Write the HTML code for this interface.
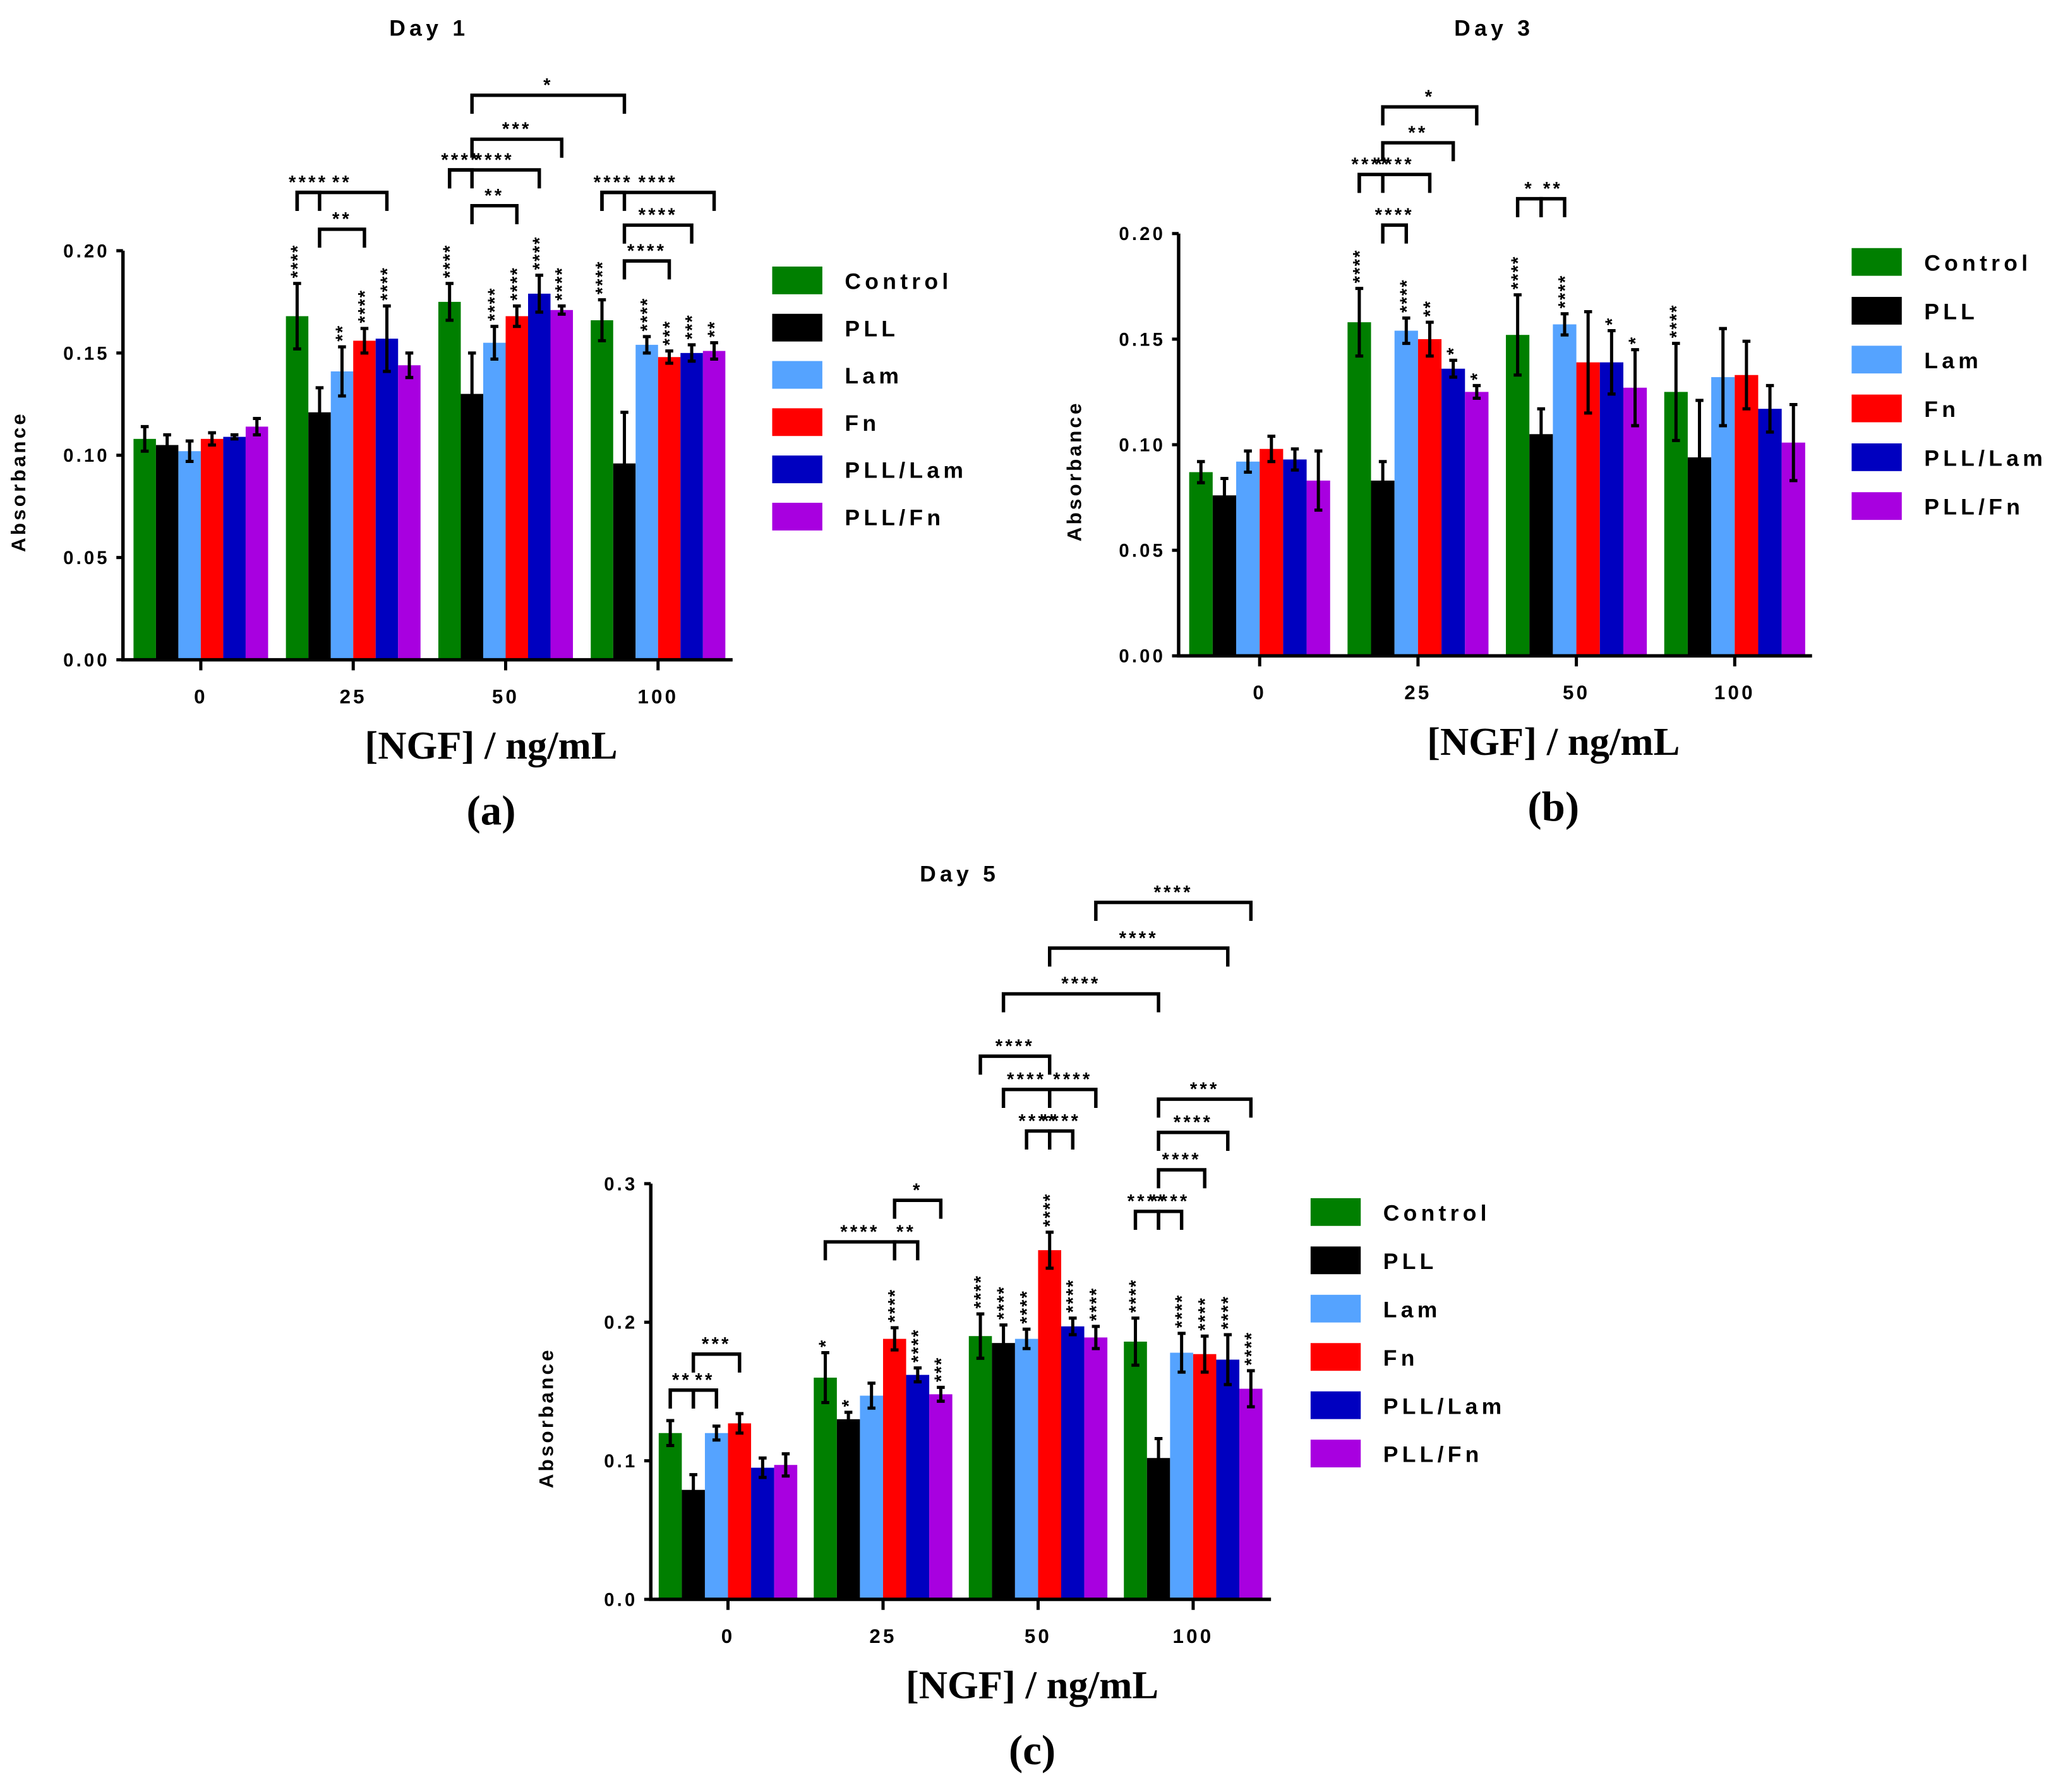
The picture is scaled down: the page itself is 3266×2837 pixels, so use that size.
<!DOCTYPE html>
<html><head><meta charset="utf-8"><style>
html,body{margin:0;padding:0;background:#fff}
svg{display:block}
text{font-family:"Liberation Sans",sans-serif;font-weight:bold}
.ser{font-family:"Liberation Serif",serif}
</style></head><body>
<svg id="fig" width="3266" height="2837" viewBox="0 0 1563 1358" xmlns="http://www.w3.org/2000/svg"></svg>
<script>
const seriesNames=["Control","PLL","Lam","Fn","PLL/Lam","PLL/Fn"];
const colors=["#007f00","#000000","#55a3ff","#ff0000","#0000c0","#a800e0"];
const categories=["0","25","50","100"];
const day1Values=[[0.108,0.168,0.175,0.166],[0.105,0.121,0.130,0.096],[0.102,0.141,0.155,0.154],[0.108,0.156,0.168,0.148],[0.109,0.157,0.179,0.150],[0.114,0.144,0.171,0.151]];
const day1Errors=[[0.006,0.016,0.009,0.010],[0.005,0.012,0.020,0.025],[0.005,0.012,0.008,0.004],[0.003,0.006,0.005,0.003],[0.001,0.016,0.009,0.004],[0.004,0.006,0.002,0.004]];
const day3Values=[[0.087,0.158,0.152,0.125],[0.076,0.083,0.105,0.094],[0.092,0.154,0.157,0.132],[0.098,0.150,0.139,0.133],[0.093,0.136,0.139,0.117],[0.083,0.125,0.127,0.101]];
const day3Errors=[[0.005,0.016,0.019,0.023],[0.008,0.009,0.012,0.027],[0.005,0.006,0.005,0.023],[0.006,0.008,0.024,0.016],[0.005,0.004,0.015,0.011],[0.014,0.003,0.018,0.018]];
const day5Values=[[0.120,0.160,0.190,0.186],[0.079,0.130,0.185,0.102],[0.120,0.147,0.188,0.178],[0.127,0.188,0.252,0.177],[0.095,0.162,0.197,0.173],[0.097,0.148,0.189,0.152]];
const day5Errors=[[0.009,0.018,0.016,0.017],[0.011,0.005,0.013,0.014],[0.005,0.009,0.007,0.014],[0.007,0.008,0.013,0.013],[0.007,0.005,0.006,0.018],[0.008,0.005,0.008,0.013]];
const day1Ticks=["0.00","0.05","0.10","0.15","0.20"];
const day3Ticks=["0.00","0.05","0.10","0.15","0.20"];
const day5Ticks=["0.0","0.1","0.2","0.3"];
const day1Brackets=[[1,0,1,4,0.2285,"**"],[1,0,1,1,0.2285,"****"],[1,1,1,3,0.2105,"**"],[2,0,2,4,0.2395,"****"],[2,0,2,1,0.2395,"****"],[2,1,2,3,0.2220,"**"],[2,1,2,5,0.2545,"***"],[2,1,3,1,0.2760,"*"],[3,0,3,5,0.2285,"****"],[3,0,3,1,0.2285,"****"],[3,1,3,4,0.2125,"****"],[3,1,3,3,0.1950,"****"]];
const day3Brackets=[[1,0,1,3,0.2280,"****"],[1,0,1,1,0.2280,"****"],[1,1,1,2,0.2040,"****"],[1,1,1,4,0.2430,"**"],[1,1,1,5,0.2600,"*"],[2,0,2,1,0.2165,"*"],[2,1,2,2,0.2165,"**"]];
const day5Brackets=[[0,0,0,1,0.151,"**"],[0,1,0,2,0.151,"**"],[0,1,0,3,0.177,"***"],[1,0,1,3,0.258,"****"],[1,3,1,4,0.258,"**"],[1,3,1,5,0.288,"*"],[2,0,2,3,0.392,"****"],[2,1,2,3,0.368,"****"],[2,3,2,5,0.368,"****"],[2,2,2,3,0.338,"****"],[2,3,2,4,0.338,"****"],[2,1,3,1,0.437,"****"],[2,3,3,4,0.470,"****"],[2,5,3,5,0.503,"****"],[3,0,3,1,0.280,"****"],[3,1,3,2,0.280,"****"],[3,1,3,3,0.310,"****"],[3,1,3,4,0.337,"****"],[3,1,3,5,0.361,"***"]];
const day1Stars=[[1,0,"****"],[1,2,"**"],[1,3,"****"],[1,4,"****"],[2,0,"****"],[2,2,"****"],[2,3,"****"],[2,4,"****"],[2,5,"****"],[3,0,"****"],[3,2,"****"],[3,3,"***"],[3,4,"***"],[3,5,"**"]];
const day3Stars=[[1,0,"****"],[1,2,"****"],[1,3,"**"],[1,4,"*"],[1,5,"*"],[2,0,"****"],[2,2,"****"],[2,4,"*"],[2,5,"*"],[3,0,"****"]];
const day5Stars=[[1,0,"*"],[1,1,"*"],[1,3,"****"],[1,4,"****"],[1,5,"***"],[2,0,"****"],[2,1,"****"],[2,2,"****"],[2,3,"****"],[2,4,"****"],[2,5,"****"],[3,0,"****"],[3,2,"****"],[3,3,"****"],[3,4,"****"],[3,5,"****"]];

const NS="http://www.w3.org/2000/svg";
const svg=document.getElementById('fig');
function mk(tag,attrs,parent,txt){const e=document.createElementNS(NS,tag);for(const k in attrs)e.setAttribute(k,attrs[k]);if(txt!==undefined)e.textContent=txt;(parent||svg).appendChild(e);return e;}

function panel(cfg){
  const g=mk('g',{});
  
  
  const yS=v=>cfg.y0-(v/cfg.ymax)*(cfg.y0-cfg.ytop);
  const bw=cfg.bw;
  const xB=(gi,si)=>cfg.x0+gi*cfg.gstep+si*bw;
  cfg.vals.forEach((arr,si)=>arr.forEach((v,gi)=>{
    const r=mk('rect',{x:xB(gi,si),y:yS(v),width:bw,height:cfg.y0-yS(v),fill:colors[si]},g);
    
    
    const e=cfg.errs[si][gi],cx=xB(gi,si)+bw/2;
    const eb=mk('path',{d:`M${cx},${yS(v-e)}V${yS(v+e)}M${cx-3},${yS(v+e)}h6M${cx-3},${yS(v-e)}h6`,stroke:'#000','stroke-width':2.4,fill:'none'},g);
    
    
  }));
  const ax=mk('path',{d:`M${cfg.ax},${cfg.ytop}V${cfg.y0}H${cfg.ax+cfg.axw}`,stroke:'#000','stroke-width':2.6,fill:'none'},g);
  
  
  cfg.ticks.forEach((t,i)=>{
    const v=parseFloat(t),y=yS(v);
    mk('path',{d:`M${cfg.ax-5},${y}H${cfg.ax}`,stroke:'#000','stroke-width':2.4},g);
    const tt=mk('text',{x:cfg.ax-10,y:y+5,'text-anchor':'end','font-size':14,'letter-spacing':2},g,t);
    
    
  });
  categories.forEach((c,gi)=>{
    const cx=xB(gi,3);
    mk('path',{d:`M${cx},${cfg.y0}v8`,stroke:'#000','stroke-width':2.4},g);
    const tt=mk('text',{x:cx,y:cfg.y0+33,'text-anchor':'middle','font-size':15,'letter-spacing':2},g,c);
    
    
  });
  const yt=mk('text',{transform:`translate(${cfg.ax-74},${(cfg.y0+cfg.ytop)/2+20}) rotate(-90)`,'text-anchor':'middle','font-size':15,'letter-spacing':2},g,'Absorbance');
  
  
  const xt=mk('text',{x:cfg.xlx,y:cfg.y0+75,'text-anchor':'middle','font-size':30,class:'ser'},g,'[NGF] / ng/mL');
  
  
  const pl=mk('text',{x:cfg.xlx,y:cfg.y0+125,'text-anchor':'middle','font-size':32,class:'ser'},g,cfg.letter);
  
  
  const ti=mk('text',{x:cfg.tx,y:cfg.ty,'text-anchor':'middle','font-size':17,'letter-spacing':3},g,cfg.title);
  
  
  seriesNames.forEach((n,si)=>{
    const ly=cfg.ly+si*cfg.lstep;
    const sw=mk('rect',{x:cfg.lx,y:ly-10,width:38,height:21,fill:colors[si]},g);
    
    
    const lt=mk('text',{x:cfg.lx+55,y:ly+7,'font-size':17,'letter-spacing':3},g,n);
    
    
  });
  cfg.br.forEach(b=>{
    const x1=xB(b[0],b[1])+bw/2,x2=xB(b[2],b[3])+bw/2,y=yS(b[4]);
    const p=mk('path',{d:`M${x1},${y+14}V${y}H${x2}V${y+14}`,stroke:'#000','stroke-width':2.6,fill:'none'},g);
    
    
    const t=mk('text',{x:(x1+x2)/2,y:y-3,'text-anchor':'middle','font-size':14,'letter-spacing':2,'font-weight':'normal'},g,b[5]);
    
    
  });
  cfg.st.forEach(s=>{
    const gi=s[0],si=s[1],cx=xB(gi,si)+bw/2,top=yS(cfg.vals[si][gi]+cfg.errs[si][gi])-4;
    const t=mk('text',{transform:`translate(${cx+5},${top}) rotate(-90)`,'font-size':14,'letter-spacing':1},g,s[2]);
    
    
  });
}
panel({name:'day1-chart',vals:day1Values,errs:day1Errors,ticks:day1Ticks,ymax:0.20,y0:500,ytop:190,ax:93,axw:462,x0:101,gstep:115.5,bw:17,xlx:372,letter:'(a)',title:'Day 1',tx:325,ty:27,lx:585,ly:212,lstep:35.8,br:day1Brackets,st:day1Stars});
panel({name:'day3-chart',vals:day3Values,errs:day3Errors,ticks:day3Ticks,ymax:0.20,y0:497,ytop:177,ax:893,axw:480,x0:901,gstep:120,bw:17.8,xlx:1177,letter:'(b)',title:'Day 3',tx:1132,ty:27,lx:1403,ly:198,lstep:37,br:day3Brackets,st:day3Stars});
panel({name:'day5-chart',vals:day5Values,errs:day5Errors,ticks:day5Ticks,ymax:0.30,y0:1212,ytop:897,ax:493,axw:470,x0:499,gstep:117.5,bw:17.5,xlx:782,letter:'(c)',title:'Day 5',tx:727,ty:668,lx:993,ly:918,lstep:36.6,br:day5Brackets,st:day5Stars});
</script>
</body></html>
